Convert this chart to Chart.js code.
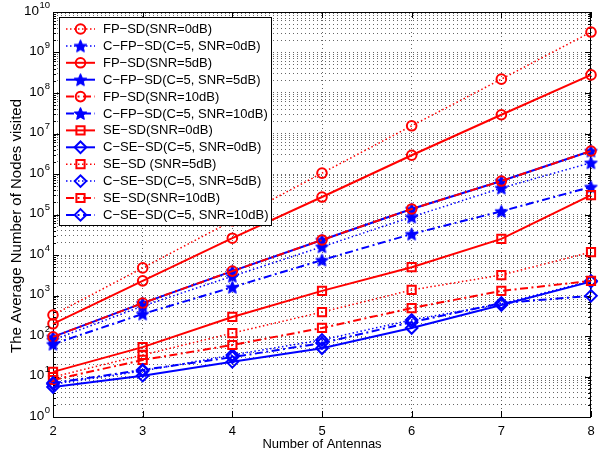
<!DOCTYPE html>
<html>
<head>
<meta charset="utf-8">
<script src="https://cdn.jsdelivr.net/npm/chart.js@4/dist/chart.umd.min.js"></script>
<style>
  html, body { margin: 0; padding: 0; background: #fff; }
  #wrap { width: 600px; height: 457px; }
</style>
</head>
<body>
<div id="wrap"><canvas id="chart" width="600" height="457"></canvas></div>
<script>
// number of antennas (x axis)
const antennas = [2, 3, 4, 5, 6, 7, 8];

// average number of visited nodes per detector / SNR
const fpSd0   = [330, 4800, 70000, 1.05e6, 1.55e7, 2.2e8, 3.2e9];
const cFpSd0  = [80, 550, 3000, 16000, 87000, 4.5e5, 1.9e6];
const fpSd5   = [200, 2300, 26000, 2.7e5, 2.9e6, 2.9e7, 2.8e8];
const cFpSd5  = [95, 650, 4000, 23500, 1.37e5, 6.7e5, 3.7e6];
const fpSd10  = [95, 650, 4000, 23500, 1.37e5, 6.7e5, 3.7e6];
const cFpSd10 = [63, 350, 1600, 7500, 33000, 1.2e5, 4.8e5];
const seSd0   = [13, 53, 295, 1300, 5000, 25000, 3.0e5];
const cSeSd0  = [5.5, 10.5, 23, 50, 158, 585, 2200];
const seSd5   = [9.7, 34, 118, 390, 1370, 3200, 11800];
const cSeSd5  = [6.5, 13.7, 34, 80, 250, 620, 2300];
const seSd10  = [8.2, 25.6, 60, 158, 490, 1300, 2300];
const cSeSd10 = [6.9, 14.5, 30, 67, 220, 650, 980];

const seriesLabels = [
  'FP−SD(SNR=0dB)', 'C−FP−SD(C=5, SNR=0dB)',
  'FP−SD(SNR=5dB)', 'C−FP−SD(C=5, SNR=5dB)',
  'FP−SD(SNR=10dB)', 'C−FP−SD(C=5, SNR=10dB)',
  'SE−SD(SNR=0dB)', 'C−SE−SD(C=5, SNR=0dB)',
  'SE−SD (SNR=5dB)', 'C−SE−SD(C=5, SNR=5dB)',
  'SE−SD(SNR=10dB)', 'C−SE−SD(C=5, SNR=10dB)'
];
const seriesData = [fpSd0, cFpSd0, fpSd5, cFpSd5, fpSd10, cFpSd10,
                    seSd0, cSeSd0, seSd5, cSeSd5, seSd10, cSeSd10];

// y axis decades 10^0 .. 10^10
const yExponents = [0, 1, 2, 3, 4, 5, 6, 7, 8, 9, 10];
const xTitle = 'Number of Antennas';
const yTitle = 'The Average Number of Nodes visited';

const RED = '#ff0000';
const BLUE = '#0000ff';
const FONT = '"Liberation Sans", Arial, Helvetica, sans-serif';

const dashes = {
  solid: [],
  dot: [1.5, 2.5],
  dashdot: [8, 3.5, 2, 3.5]
};
const widths = { solid: 2, dot: 1.5, dashdot: 2 };

// pentagram marker used for the C-FP-SD curves
function makeStar(size, color) {
  const c = document.createElement('canvas');
  c.width = c.height = size;
  const g = c.getContext('2d');
  const cx = size / 2, cy = size / 2 + 0.6, R = size / 2 - 1.2, r = R * 0.45;
  g.beginPath();
  for (let i = 0; i < 10; i++) {
    const ang = -Math.PI / 2 + i * Math.PI / 5;
    const rad = i % 2 ? r : R;
    g.lineTo(cx + rad * Math.cos(ang), cy + rad * Math.sin(ang));
  }
  g.closePath();
  g.fillStyle = color;
  g.fill();
  g.strokeStyle = color;
  g.lineWidth = 1.2;
  g.lineJoin = 'round';
  g.stroke();
  return c;
}
const starImg = makeStar(15, BLUE);

// per-series look: colour, line style, marker
const looks = [
  [RED, 'dot', 'circle'],    [BLUE, 'dot', 'star'],
  [RED, 'solid', 'circle'],  [BLUE, 'solid', 'star'],
  [RED, 'dashdot', 'circle'],[BLUE, 'dashdot', 'star'],
  [RED, 'solid', 'rect'],    [BLUE, 'solid', 'rectRot'],
  [RED, 'dot', 'rect'],      [BLUE, 'dot', 'rectRot'],
  [RED, 'dashdot', 'rect'],  [BLUE, 'dashdot', 'rectRot']
];
const markerRadius = { circle: 4.8, rect: 5.8, rectRot: 5.8, star: 7 };

const datasets = seriesData.map((vals, i) => {
  const [color, line, marker] = looks[i];
  return {
    label: seriesLabels[i],
    data: vals.map((v, j) => ({ x: antennas[j], y: v })),
    borderColor: color,
    backgroundColor: color,
    borderWidth: widths[line],
    borderDash: dashes[line],
    pointStyle: marker === 'star' ? starImg : marker,
    pointRadius: markerRadius[marker],
    pointBorderColor: color,
    pointBackgroundColor: 'rgba(0,0,0,0)',
    pointBorderWidth: 2,
    tension: 0,
    clip: false,
    // later series sit on top, like the plotting order
    order: -i
  };
});

function drawMarker(ctx, marker, x, y, color) {
  ctx.save();
  ctx.setLineDash([]);
  ctx.strokeStyle = color;
  ctx.lineWidth = 2;
  ctx.beginPath();
  if (marker === 'circle') {
    ctx.arc(x, y, 4.8, 0, Math.PI * 2);
    ctx.stroke();
  } else if (marker === 'rect') {
    const s = 5.8 * Math.SQRT1_2;
    ctx.rect(x - s, y - s, 2 * s, 2 * s);
    ctx.stroke();
  } else if (marker === 'rectRot') {
    ctx.moveTo(x - 5.8, y);
    ctx.lineTo(x, y - 5.8);
    ctx.lineTo(x + 5.8, y);
    ctx.lineTo(x, y + 5.8);
    ctx.closePath();
    ctx.stroke();
  } else {
    ctx.drawImage(starImg, x - starImg.width / 2, y - starImg.height / 2);
  }
  ctx.restore();
}

// box, inward ticks, tick labels, axis titles and legend
const axesPlugin = {
  id: 'axesFrame',
  beforeDatasetsDraw(chart) {
    const { ctx, chartArea: a, scales: { x, y } } = chart;
    ctx.save();
    ctx.strokeStyle = '#000';
    ctx.lineWidth = 1;
    ctx.beginPath();
    antennas.forEach(v => {
      const px = Math.round(x.getPixelForValue(v)) + 0.5;
      ctx.moveTo(px, a.bottom); ctx.lineTo(px, a.bottom - 6);
      ctx.moveTo(px, a.top); ctx.lineTo(px, a.top + 6);
    });
    y.ticks.forEach(t => {
      const major = Math.abs(Math.log10(t.value) - Math.round(Math.log10(t.value))) < 1e-9;
      const len = major ? 6 : 3;
      const py = Math.round(y.getPixelForValue(t.value)) + 0.5;
      ctx.moveTo(a.left, py); ctx.lineTo(a.left + len, py);
      ctx.moveTo(a.right, py); ctx.lineTo(a.right - len, py);
    });
    ctx.stroke();
    ctx.strokeRect(a.left + 0.5, a.top + 0.5, a.right - a.left - 1, a.bottom - a.top);
    ctx.restore();
  },
  afterDraw(chart) {
    const { ctx, chartArea: a, scales: { x, y } } = chart;
    ctx.save();
    ctx.fillStyle = '#000';

    // x tick labels
    ctx.font = '13px ' + FONT;
    ctx.textAlign = 'center';
    ctx.textBaseline = 'middle';
    antennas.forEach(v => ctx.fillText(String(v), x.getPixelForValue(v), a.bottom + 14));

    // y tick labels as 10 with a raised exponent
    yExponents.forEach(e => {
      const py = y.getPixelForValue(Math.pow(10, e));
      ctx.font = '9.5px ' + FONT;
      const ew = ctx.measureText(String(e)).width;
      ctx.textAlign = 'left';
      ctx.textBaseline = 'middle';
      const right = a.left - 3;
      ctx.fillText(String(e), right - ew, py - 7);
      ctx.font = '13.5px ' + FONT;
      ctx.textAlign = 'right';
      ctx.fillText('10', right - ew - 0.5, py - 1);
    });

    // axis titles
    ctx.font = '13px ' + FONT;
    ctx.textAlign = 'center';
    ctx.textBaseline = 'middle';
    ctx.fillText(xTitle, (a.left + a.right) / 2, a.bottom + 27);
    ctx.font = '15px ' + FONT;
    ctx.translate(17, 226);
    ctx.rotate(-Math.PI / 2);
    ctx.fillText(yTitle, 0, 0);
    ctx.restore();

    // legend box
    ctx.save();
    const lx = 59, ly = 17, lw = 212, lh = 208;
    ctx.fillStyle = '#fff';
    ctx.fillRect(lx, ly, lw, lh);
    ctx.strokeStyle = '#000';
    ctx.lineWidth = 1;
    ctx.strokeRect(lx + 0.5, ly + 0.5, lw, lh);
    ctx.font = '13px ' + FONT;
    ctx.textAlign = 'left';
    ctx.textBaseline = 'middle';
    seriesLabels.forEach((label, i) => {
      const [color, line, marker] = looks[i];
      const cy = 29 + i * 16.9;
      ctx.save();
      ctx.strokeStyle = color;
      ctx.lineWidth = widths[line];
      ctx.setLineDash(dashes[line]);
      ctx.beginPath();
      ctx.moveTo(66, cy);
      ctx.lineTo(95, cy);
      ctx.stroke();
      ctx.restore();
      drawMarker(ctx, marker, 80.5, cy, color);
      ctx.fillStyle = '#000';
      ctx.fillText(label, 103, cy + 0.5);
    });
    ctx.restore();
  }
};

const gridStyle = {
  color: 'rgba(0,0,0,0.6)',
  lineWidth: 1,
  drawTicks: false
};

new Chart(document.getElementById('chart'), {
  type: 'line',
  data: { datasets },
  options: {
    responsive: false,
    animation: false,
    layout: { padding: { left: 53, right: 3, top: 12, bottom: 40 } },
    plugins: { legend: { display: false }, tooltip: { enabled: false } },
    scales: {
      x: {
        type: 'linear',
        min: 2,
        max: 8,
        ticks: { display: false, stepSize: 1 },
        grid: gridStyle,
        border: { display: false, dash: [1, 3] },
        afterFit: s => { s.height = 0; }
      },
      y: {
        type: 'logarithmic',
        min: 1,
        max: 1e10,
        ticks: { display: false },
        grid: gridStyle,
        border: { display: false, dash: [1, 3] },
        afterBuildTicks: scale => {
          const ticks = [];
          for (let e = 0; e < 10; e++) {
            for (let k = 1; k < 10; k++) ticks.push({ value: k * Math.pow(10, e) });
          }
          ticks.push({ value: 1e10 });
          scale.ticks = ticks;
        },
        afterFit: s => { s.width = 0; }
      }
    }
  },
  plugins: [axesPlugin]
});
</script>
</body>
</html>
